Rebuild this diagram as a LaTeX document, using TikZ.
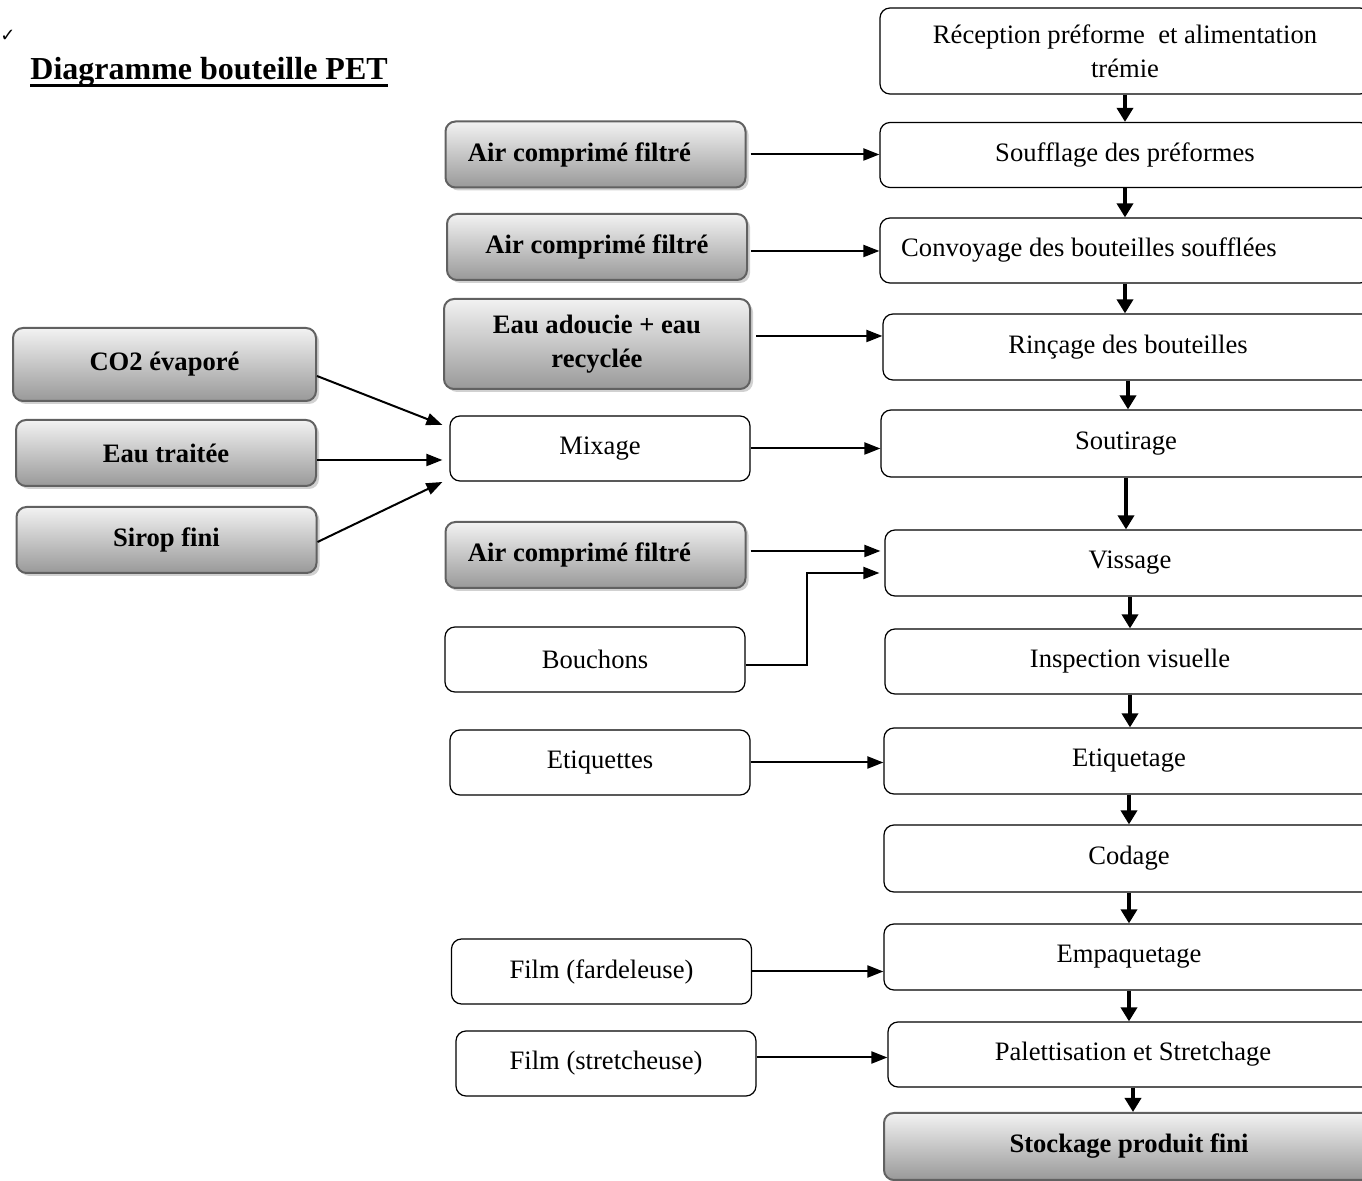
\documentclass[tikz,border=0pt]{standalone}
\usepackage{fontspec}
\setmainfont{Liberation Serif}
\newfontfamily\symbolfont{DejaVu Sans}
\usetikzlibrary{arrows.meta,shadows,calc}
\newcommand{\boxfont}{\fontsize{13.3}{17}\selectfont}

\tikzset{
  wbox/.style={draw=black, line width=0.6pt, rounded corners=5pt, fill=white,
    minimum width=150pt, minimum height=32.5pt, font=\boxfont, inner sep=2pt},
  gbox/.style={draw=black!62, line width=1pt, rounded corners=5pt,
    top color=white!95!black, bottom color=black!40,
    drop shadow={shadow xshift=1.5pt, shadow yshift=-1.5pt, fill=black!30, opacity=.6},
    minimum width=150pt, minimum height=33pt,
    font=\boxfont\bfseries, inner sep=2pt},
  rbox/.style={wbox, minimum width=245pt},
  flow/.style={line width=1pt, -{Triangle[length=8pt,width=6pt]}},
  down/.style={line width=1.8pt, -{Triangle[length=7pt,width=8pt]}},
}

\begin{document}
\begin{tikzpicture}[x=0.5pt,y=-0.5pt]
\useasboundingbox (0,0) rectangle (1362,1181);

% heading
\node[font=\symbolfont\fontsize{9}{10}\selectfont, anchor=base west, inner sep=0pt] (tick) at (0,42) {✓};
\node[font=\fontsize{16}{19}\selectfont\bfseries, anchor=base west, inner sep=0pt] (title) at (30,80) {Diagramme bouteille PET};
\draw[line width=1.5pt] ([yshift=-3pt]title.base west) -- ([yshift=-3pt]title.base east);

% main process line
\node[rbox, minimum height=43pt, align=center] (r1) at (1125,51) {Réception préforme \ et alimentation\\trémie};
\node[rbox] (r2) at (1125,155) {Soufflage des préformes};
\node[rbox] (r3) at (1125,250.5) {Convoyage des bouteilles soufflées\kern36pt};
\node[rbox, minimum height=33pt] (r4) at (1128,347) {Rinçage des bouteilles};
\node[rbox, minimum height=33.5pt] (r5) at (1126,443.5) {Soutirage};
\node[rbox, minimum height=33pt] (r6) at (1130,563) {Vissage};
\node[rbox] (r7) at (1130,661.5) {Inspection visuelle};
\node[rbox, minimum height=33pt] (r8) at (1129,761) {Etiquetage};
\node[rbox, minimum height=33.5pt] (r9) at (1129,858.5) {Codage};
\node[rbox, minimum height=33pt] (r10) at (1129,957) {Empaquetage};
\node[rbox] (r11) at (1133,1054.5) {Palettisation et Stretchage};
\node[gbox, minimum width=245pt, minimum height=33.5pt] (r12) at (1129,1146.5) {Stockage produit fini};

\foreach \a/\b in {r1/r2,r2/r3,r3/r4,r4/r5,r5/r6,r6/r7,r7/r8,r8/r9,r9/r10,r10/r11,r11/r12}
  \draw[down] (\a.south) -- (\a.south |- \b.north);

% inputs to the line
\node[gbox] (air1) at (595.5,154.5) {Air comprimé filtré\kern16pt};
\node[gbox] (air2) at (597,247) {Air comprimé filtré};
\node[gbox, minimum width=153pt, minimum height=45pt, align=center] (eau) at (597,344) {Eau adoucie + eau\\recyclée};
\node[wbox] (mix) at (600,448.5) {Mixage};
\node[gbox] (air3) at (595.5,555) {Air comprimé filtré\kern16pt};
\node[wbox] (bouch) at (595,659.5) {Bouchons};
\node[wbox] (etiq) at (600,762.5) {Etiquettes};
\node[wbox] (fard) at (601.5,971.5) {Film (fardeleuse)};
\node[wbox] (stretch) at (606,1063.5) {Film (stretcheuse)};

\draw[flow] ([xshift=2pt]air1.east) -- (air1.east -| r2.west);
\draw[flow] ([xshift=1.5pt,yshift=-2pt]air2.east) -- ([yshift=-2pt]air2.east -| r3.west);
\draw[flow] ([xshift=2.5pt,yshift=4pt]eau.east) -- ([yshift=4pt]eau.east -| r4.west);
\draw[flow] (mix.east) -- (mix.east -| r5.west);
\draw[flow] ([xshift=2pt,yshift=2pt]air3.east) -- ([xshift=-2pt,yshift=2pt]air3.east -| r6.west);
\coordinate (bend) at ($(bouch.east)+(61,5.5)$);
\draw[flow] ([yshift=-2.75pt]bouch.east) -- ([yshift=-2.75pt]bouch.east -| bend) -- (bend |- {$(r6.west)+(0,10)$}) -- ($(r6.west)+(-5,10)$);
\draw[flow] (etiq.east) -- (etiq.east -| r8.west);
\draw[flow] (fard.east) -- (fard.east -| r10.west);
\draw[flow] ([yshift=3pt]stretch.east) -- ([yshift=3pt]stretch.east -| r11.west);

% ingredients of the mix
\node[gbox, minimum width=151.5pt, minimum height=36.5pt] (co2) at (164.5,364.5) {CO2 évaporé};
\node[gbox] (eaut) at (166,453) {Eau traitée};
\node[gbox] (sirop) at (166.5,540) {Sirop fini};

\draw[flow] ($(co2.east)+(0,11.5)$) -- ($(mix.west)+(-7,-23.5)$);
\draw[flow] ($(eaut.east)+(0,7)$) -- ($(mix.west)+(-7,11.5)$);
\draw[flow] ($(sirop.east)+(0,2)$) -- ($(mix.west)+(-7,33.5)$);
\end{tikzpicture}
\end{document}
